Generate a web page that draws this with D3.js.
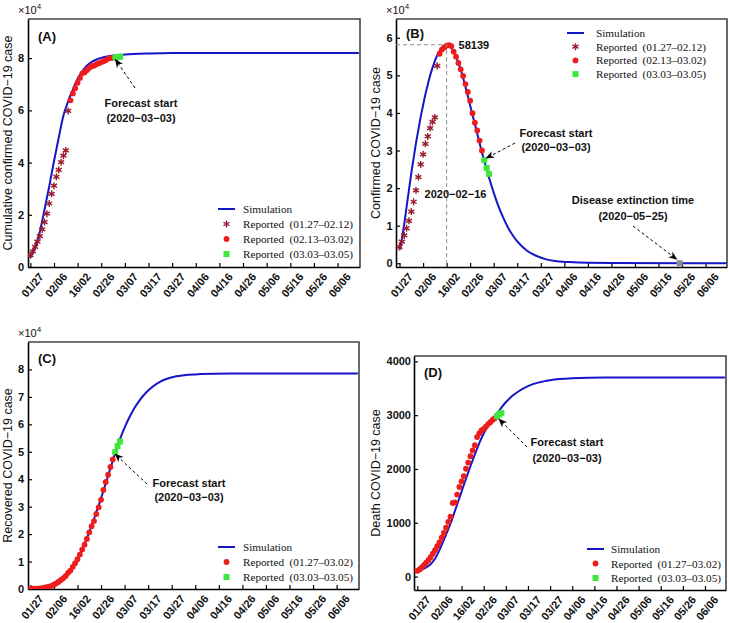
<!DOCTYPE html>
<html><head><meta charset="utf-8">
<script src="https://cdn.jsdelivr.net/npm/d3@7"></script>
<style>body{margin:0;background:#fff}svg{display:block}</style>
</head><body>
<svg id="c" width="729" height="623"></svg>
<script>
// ---------- DATA ----------
const tickDays = [0,10,20,30,40,50,60,70,80,90,100,110,120,130];
const tickLabels = ["01/27","02/06","16/02","02/26","03/07","03/17","03/27","04/06","04/16","04/26","05/06","05/16","05/26","06/06"];

// Reported, day index counted from 01/27
const daysP1 = [0,1,2,3,4,5,6,7,8,9,10,11,12,13,14,15,16];            // 01.27–02.12
const daysP2 = [17,18,19,20,21,22,23,24,25,26,27,28,29,30,31,32,33,34,35]; // 02.13–03.02
const daysP12 = daysP1.concat(daysP2);                                  // 01.27–03.02
const daysP3 = [36,37,38];                                              // 03.03–03.05

const cumConfP1 = [4515,5974,7711,9692,11791,14380,17205,20438,24324,28018,31161,34546,37198,40171,42638,44653,59804];
const cumConfP2 = [63851,66492,68500,70548,72436,74185,74576,75465,76288,76936,77150,77658,78064,78497,78824,79251,79824,80026,80151];
const cumConfP3 = [80270,80409,80552];

const activeP1 = [4349,5739,7417,9308,11289,13748,16369,19381,22942,26302,28985,31774,33738,35982,37626,38800,52526];
const activeP2 = [55748,56873,57416,57934,58016,57805,56303,54965,53284,51606,49824,47672,45604,43258,39919,37414,35329,32652,30004];
const activeP3 = [27433,25352,23784];

const recoveredP12 = [60,103,124,171,243,328,475,632,892,1153,1540,2050,2649,3281,3996,4740,5911,6723,8096,9419,10844,12552,14376,16155,18264,20659,22888,24734,27323,29745,32495,36117,39002,41625,44462,47204];
const recoveredP3 = [49856,52045,53726];

const deathP12 = [106,132,170,213,259,304,361,425,490,563,636,722,811,908,1016,1113,1367,1380,1523,1665,1770,1868,2004,2118,2236,2345,2442,2592,2663,2715,2744,2788,2835,2870,2912,2943];
const deathP3 = [2981,3012,3042];

// Simulation curves
const simDaysA = [0,2,4,6,8,10,12,14,16,18,20,22,24,26,28,30,33,36,40,50,60,80,139];
const simA = [3500,7500,13500,22000,31000,40500,49500,58000,63500,68000,72000,75000,77200,78600,79500,80100,80700,81100,81400,81800,82000,82000,82000];

const simDaysB = [0,1,2,3,4,5,6,7,8,9,10,11,12,13,14,15,16,17,18,19,20,21,22,24,26,28,30,32,34,36,38,40,42,44,46,48,50,54,58,62,66,72,80,90,139];
const simB = [3500,6500,10500,15000,19500,24000,28000,32000,35500,39000,42000,45000,47500,50000,52000,53800,55300,56500,57400,57900,58139,58000,57400,55000,51500,47000,42000,37000,32000,27200,22800,18800,15200,12200,9600,7500,5800,3400,2000,1100,600,300,100,50,0];

const simDaysC = [0,5,10,13,16,18,20,22,24,26,28,30,32,34,36,38,40,42,44,46,48,50,52,55,58,62,66,72,85,139];
const simC = [50,300,1500,3300,6000,8200,10800,14500,18500,23000,28000,33000,38500,44000,49500,54500,58800,62500,65700,68300,70500,72300,73800,75500,76600,77500,78000,78300,78500,78500];

const simDaysD = [0,2,4,6,8,10,12,14,16,18,20,22,24,26,28,30,32,34,36,38,40,43,46,50,55,60,70,85,139];
const simD = [110,130,170,230,330,490,680,880,1100,1340,1580,1820,2050,2270,2480,2660,2810,2930,3030,3140,3240,3360,3450,3540,3610,3650,3685,3700,3700];

const extinctionDay = [119];
const extinctionVal = [0];
const peakDay = 20, peakVal = 58139;

// ---------- DRAW ----------
const svg = d3.select("#c");
const defs = svg.append("defs");
defs.append("marker").attr("id","arr").attr("viewBox","0 0 10 10").attr("refX",9).attr("refY",5)
  .attr("markerWidth",9).attr("markerHeight",9).attr("orient","auto-start-reverse")
  .attr("markerUnits","userSpaceOnUse")
  .append("path").attr("d","M0,1 L10,5 L0,9 L3,5 Z").attr("fill","#000");

const BLUE = "#1515c8", RED = "#ee1c1c", STAR = "#9c1b2c", GREEN = "#3ee63e";
const SANS = "'Liberation Sans', Arial, sans-serif", SERIF = "'Liberation Serif', 'Times New Roman', serif";

function panel(cfg){
  const g = svg.append("g");
  const x = d3.scaleLinear().domain(cfg.xd).range([cfg.l, cfg.r]);
  const y = d3.scaleLinear().domain(cfg.yd).range([cfg.b, cfg.t]);
  const clipId = "clip"+cfg.id;
  defs.append("clipPath").attr("id",clipId).append("rect")
    .attr("x",cfg.l).attr("y",cfg.t).attr("width",cfg.r-cfg.l).attr("height",cfg.b-cfg.t);

  // top & right frame
  g.append("path").attr("d",`M${cfg.l},${cfg.t}H${cfg.r}V${cfg.b}`).attr("fill","none")
    .attr("stroke","#444").attr("stroke-width",1.6);

  // axes
  const ya = g.append("g").attr("transform",`translate(${cfg.l},0)`)
    .call(d3.axisLeft(y).tickValues(cfg.yticks).tickSizeInner(-4).tickSizeOuter(0).tickPadding(cfg.tp).tickFormat(cfg.yfmt));
  ya.select(".domain").attr("stroke","#000").attr("stroke-width",1.6);
  ya.selectAll("text").attr("font-family",SANS).attr("font-weight","bold").attr("font-size",11).attr("fill","#111");
  const xa = g.append("g").attr("transform",`translate(0,${cfg.b})`)
    .call(d3.axisBottom(x).tickValues(tickDays).tickSizeInner(-4).tickSizeOuter(0).tickFormat(""));
  xa.select(".domain").attr("stroke","#000").attr("stroke-width",1.6);
  g.selectAll(".tick line").attr("stroke","#000").attr("stroke-width",1.2);
  g.append("g").selectAll("text").data(tickDays).join("text")
    .attr("transform",(d)=>`translate(${x(d)+2},${cfg.b+18}) rotate(-50)`)
    .attr("text-anchor","middle").attr("dominant-baseline","central")
    .attr("font-family",SANS).attr("font-weight","bold").attr("font-size",11).attr("fill","#111")
    .text((d,i)=>tickLabels[i]);

  // y title
  g.append("text").attr("transform",`translate(${cfg.titleX},${(cfg.t+cfg.b)/2}) rotate(-90)`)
    .attr("text-anchor","middle").attr("font-family",SANS).attr("font-size",12.5).attr("fill","#111")
    .text(cfg.title);
  // multiplier
  if(cfg.mult){
    const m = g.append("text").attr("x",cfg.l-10).attr("y",cfg.t-5).attr("font-family",SANS).attr("font-size",11).attr("fill","#111");
    m.append("tspan").text("×10");
    m.append("tspan").attr("dy",-5).attr("font-size",8).text("4");
  }
  // panel label
  g.append("text").attr("x",cfg.l+10).attr("y",cfg.t+cfg.labDy).attr("font-family",SANS).attr("font-weight","bold")
    .attr("font-size",13).attr("fill","#111").text(cfg.label);

  const pg = g.append("g").attr("clip-path",`url(#${clipId})`);
  const line = d3.line().x(d=>x(d[0])).y(d=>y(d[1])).curve(d3.curveMonotoneX);

  if(cfg.extra) cfg.extra(g,x,y);

  pg.append("path").datum(d3.zip(cfg.simDays,cfg.sim)).attr("d",line)
    .attr("fill","none").attr("stroke",BLUE).attr("stroke-width",2);

  if(cfg.stars){
    pg.append("g").selectAll("path").data(d3.zip(cfg.stars[0],cfg.stars[1])).join("path")
      .attr("transform",d=>`translate(${x(d[0])},${y(d[1])})`)
      .attr("d",d3.symbol(d3.symbolAsterisk,34)).attr("fill","none").attr("stroke",STAR).attr("stroke-width",1.4);
  }
  pg.append("g").selectAll("circle").data(d3.zip(cfg.dots[0],cfg.dots[1])).join("circle")
    .attr("cx",d=>x(d[0])).attr("cy",d=>y(d[1])).attr("r",2.9).attr("fill",RED);
  pg.append("g").selectAll("rect").data(d3.zip(cfg.squares[0],cfg.squares[1])).join("rect")
    .attr("x",d=>x(d[0])-3).attr("y",d=>y(d[1])-3).attr("width",6).attr("height",6).attr("fill",GREEN);

  // forecast annotation
  const fa = cfg.fc;
  g.append("line").attr("x1",fa.x1).attr("y1",fa.y1)
    .attr("x2",x(cfg.squares[0][0])+fa.tdx).attr("y2",y(cfg.squares[1][0])+fa.tdy)
    .attr("stroke","#000").attr("stroke-width",1).attr("stroke-dasharray","3,2.5").attr("marker-end","url(#arr)");
  const ft = g.append("text").attr("font-family",SANS).attr("font-weight","bold").attr("font-size",11).attr("fill","#111").attr("text-anchor","middle");
  ft.append("tspan").attr("x",fa.tx).attr("y",fa.ty).text("Forecast start");
  ft.append("tspan").attr("x",fa.tx).attr("y",fa.ty+fa.lh).text("(2020−03−03)");

  // legend
  const L = cfg.leg;
  const lg = g.append("g").attr("font-family",SERIF).attr("font-size",11.2).attr("fill","#111");
  lg.append("line").attr("x1",L.x).attr("x2",L.x+17).attr("y1",L.y).attr("y2",L.y).attr("stroke",BLUE).attr("stroke-width",2);
  lg.append("text").attr("x",L.x+L.tx).attr("y",L.y+4).text("Simulation");
  L.items.forEach((it,i)=>{
    const yy = L.y + (i+1)*L.dy, cx = L.x+8.5;
    if(it.k==="star") lg.append("path").attr("transform",`translate(${cx},${yy})`).attr("d",d3.symbol(d3.symbolAsterisk,34)).attr("fill","none").attr("stroke",STAR).attr("stroke-width",1.4);
    if(it.k==="dot") lg.append("circle").attr("cx",cx).attr("cy",yy).attr("r",2.9).attr("fill",RED);
    if(it.k==="sq") lg.append("rect").attr("x",cx-3).attr("y",yy-3).attr("width",6).attr("height",6).attr("fill",GREEN);
    lg.append("text").attr("x",L.x+L.tx).attr("y",yy+4).attr("xml:space","preserve").text(it.t);
  });
}

const fmt4 = d=>d3.format("d")(d/1e4);

panel({id:"A", l:28, r:360, t:19, b:267, xd:[-1,139.5], yd:[0,95000], yticks:[0,20000,40000,60000,80000], yfmt:fmt4, tp:4,
  title:"Cumulative confirmed COVID−19 case", titleX:12, mult:true, label:"(A)", labDy:22,
  simDays:simDaysA, sim:simA, stars:[daysP1,cumConfP1], dots:[daysP2,cumConfP2], squares:[daysP3,cumConfP3],
  fc:{x1:135,y1:88,tdx:0,tdy:2,tx:141,ty:107,lh:15},
  leg:{x:218,y:209,dy:15,tx:25,items:[{k:"star",t:"Reported  (01.27–02.12)"},{k:"dot",t:"Reported  (02.13–03.02)"},{k:"sq",t:"Reported  (03.03–03.05)"}]}});

panel({id:"B", l:396, r:727, t:19, b:267, xd:[-1.5,139.1], yd:[-1000,65000], yticks:[0,10000,20000,30000,40000,50000,60000], yfmt:fmt4, tp:3.5,
  title:"Confirmed COVID−19 case", titleX:380, mult:true, label:"(B)", labDy:19,
  simDays:simDaysB, sim:simB, stars:[daysP1,activeP1], dots:[daysP2,activeP2], squares:[daysP3,activeP3],
  fc:{x1:515,y1:143,tdx:2,tdy:-2,tx:556,ty:137,lh:14},
  leg:{x:567,y:33,dy:13.7,tx:29,items:[{k:"star",t:"Reported  (01.27–02.12)"},{k:"dot",t:"Reported  (02.13–03.02)"},{k:"sq",t:"Reported  (03.03–03.05)"}]},
  extra:(g,x,y)=>{
    g.append("path").attr("d",`M${x(-1.5)},${y(peakVal)}H${x(peakDay)}V${y(-1000)}`).attr("fill","none")
      .attr("stroke","#8a8a8a").attr("stroke-width",1).attr("stroke-dasharray","4,3");
    g.append("text").attr("x",x(peakDay)+12).attr("y",y(peakVal)+4).attr("font-family",SANS).attr("font-weight","bold").attr("font-size",11).attr("fill","#111").text(d3.format("d")(peakVal));
    g.append("text").attr("x",x(peakDay)-22).attr("y",198).attr("font-family",SANS).attr("font-weight","bold").attr("font-size",11).attr("fill","#111").text("2020−02−16");
    const t = g.append("text").attr("font-family",SANS).attr("font-weight","bold").attr("font-size",11).attr("fill","#111").attr("text-anchor","middle");
    t.append("tspan").attr("x",633).attr("y",204).text("Disease extinction time");
    t.append("tspan").attr("x",633).attr("y",220).text("(2020−05−25)");
    g.append("line").attr("x1",633).attr("y1",226).attr("x2",x(extinctionDay[0])-3).attr("y2",y(extinctionVal[0])-4)
      .attr("stroke","#000").attr("stroke-width",1).attr("stroke-dasharray","3,2.5").attr("marker-end","url(#arr)");
    g.append("g").selectAll("rect").data(d3.zip(extinctionDay,extinctionVal)).join("rect")
      .attr("x",d=>x(d[0])-3).attr("y",d=>y(d[1])-3).attr("width",6).attr("height",6).attr("fill","#8c8c8c");
  }});

panel({id:"C", l:28, r:359, t:342, b:589, xd:[-1,139.5], yd:[0,90000], yticks:[0,10000,20000,30000,40000,50000,60000,70000,80000], yfmt:fmt4, tp:4,
  title:"Recovered COVID−19 case", titleX:12, mult:true, label:"(C)", labDy:21,
  simDays:simDaysC, sim:simC, dots:[daysP12,recoveredP12], squares:[daysP3,recoveredP3],
  fc:{x1:147,y1:484,tdx:0,tdy:2,tx:189,ty:487,lh:14},
  leg:{x:218,y:547,dy:15,tx:25,items:[{k:"dot",t:"Reported  (01.27–03.02)"},{k:"sq",t:"Reported  (03.03–03.05)"}]}});

panel({id:"D", l:414, r:726, t:356, b:590, xd:[-1.5,139.5], yd:[-250,4100], yticks:[0,1000,2000,3000,4000], yfmt:d3.format("d"), tp:3,
  title:"Death COVID−19 case", titleX:380, mult:false, label:"(D)", labDy:21,
  simDays:simDaysD, sim:simD, dots:[daysP12,deathP12], squares:[daysP3,deathP3],
  fc:{x1:527,y1:447,tdx:2,tdy:3,tx:567,ty:446,lh:16},
  leg:{x:587,y:549,dy:14.5,tx:24,items:[{k:"dot",t:"Reported  (01.27–03.02)"},{k:"sq",t:"Reported  (03.03–03.05)"}]}});
</script>
</body></html>
